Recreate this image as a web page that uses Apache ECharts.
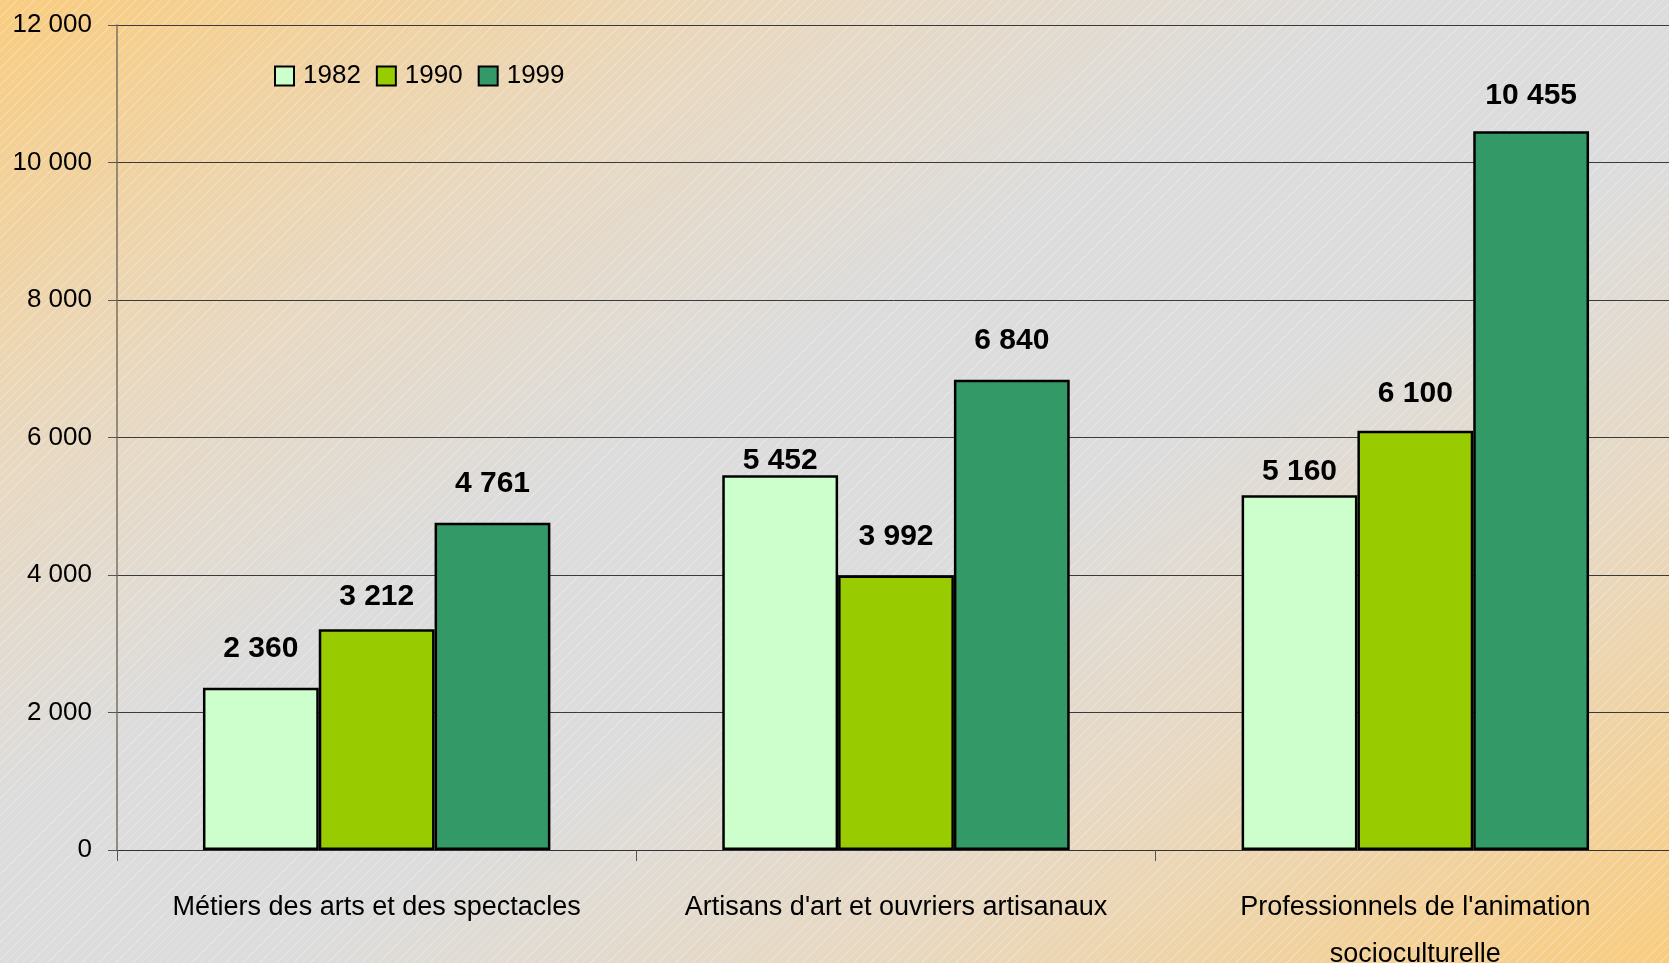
<!DOCTYPE html>
<html>
<head>
<meta charset="utf-8">
<script src="https://cdn.jsdelivr.net/npm/echarts@6/dist/echarts.min.js"></script>
<style>
  html, body { margin: 0; padding: 0; }
  #chart {
    width: 1669px;
    height: 963px;
    background:
      repeating-linear-gradient(135deg, rgba(255,255,255,0.22) 0 1px, rgba(255,255,255,0) 1px 6px),
      linear-gradient(to bottom right, #f9cc7f 0%, #e8d8c0 24%, #dcdcdc 42%, #dcdcdc 58%, #e8d8c0 76%, #f9cc7f 100%);
  }
</style>
</head>
<body>
<div id="chart"></div>
<script>
const categories = [
  "Métiers des arts et des spectacles",
  "Artisans d'art et ouvriers artisanaux",
  "Professionnels de l'animation\nsocioculturelle",
];
const years = ["1982", "1990", "1999"];
const values1982 = [2360, 5452, 5160];
const values1990 = [3212, 3992, 6100];
const values1999 = [4761, 6840, 10455];
const yTicks = [0, 2000, 4000, 6000, 8000, 10000, 12000];
const colors = ["#ccffcc", "#99cc00", "#339966"];
// décalage vertical de certaines étiquettes (px), comme dans l'original
const labelShift1982 = [0, 25, 15];
const labelShift1990 = [7, 0, 2];
const labelShift1999 = [0, 0, 4];

const font = "'Liberation Sans', Arial, sans-serif";
// espace comme séparateur des milliers
const fmt = (v) => String(v).replace(/\B(?=(\d{3})+(?!\d))/g, " ");

const myChart = echarts.init(document.getElementById("chart"));

const makeSeries = (name, values, shifts, color) => ({
  name: name,
  type: "bar",
  data: values.map((v, i) => ({
    value: v,
    label: { offset: [0, shifts[i]] },
  })),
  barWidth: "22.3%",
  barGap: 0,
  itemStyle: {
    color: color,
    borderColor: "#000",
    borderWidth: 2.5,
  },
  label: {
    show: true,
    position: "top",
    distance: 24,
    color: "#000",
    fontFamily: font,
    fontWeight: "bold",
    fontSize: 30,
    formatter: (p) => fmt(p.value),
  },
});

myChart.setOption({
  backgroundColor: "transparent",
  animation: false,
  legend: {
    left: 274,
    top: 63,
    padding: 0,
    itemWidth: 19,
    itemHeight: 19,
    itemGap: 15,
    icon: "rect",
    itemStyle: {
      borderColor: "#000",
      borderWidth: 2,
    },
    textStyle: {
      fontFamily: font,
      fontSize: 26,
      color: "#000",
      padding: [0, 0, 0, 4],
    },
    data: years,
  },
  grid: {
    left: 117,
    top: 25,
    bottom: 113,
    width: 1558,
    outerBoundsMode: "none",
    containLabel: false,
  },
  xAxis: {
    type: "category",
    data: categories,
    axisLine: {
      show: true,
      lineStyle: { color: "#333", width: 1 },
    },
    axisTick: {
      show: true,
      interval: 0,
      length: 11,
      lineStyle: { color: "#555", width: 1 },
    },
    axisLabel: {
      interval: 0,
      margin: 34,
      color: "#000",
      fontFamily: font,
      fontSize: 27,
      lineHeight: 47,
    },
  },
  yAxis: {
    type: "value",
    min: yTicks[0],
    max: yTicks[yTicks.length - 1],
    interval: yTicks[1] - yTicks[0],
    axisLine: {
      show: true,
      lineStyle: { color: "#7a7060", width: 1.5 },
    },
    axisTick: {
      show: true,
      length: 9,
      lineStyle: { color: "#555", width: 1 },
    },
    splitLine: {
      show: true,
      lineStyle: { color: "#3a3a3a", width: 1 },
    },
    axisLabel: {
      margin: 25,
      color: "#000",
      fontFamily: font,
      fontSize: 26,
      formatter: (v) => fmt(v),
    },
  },
  series: [
    makeSeries(years[0], values1982, labelShift1982, colors[0]),
    makeSeries(years[1], values1990, labelShift1990, colors[1]),
    makeSeries(years[2], values1999, labelShift1999, colors[2]),
  ],
});

window.addEventListener("resize", () => myChart.resize(), false);
</script>
</body>
</html>
